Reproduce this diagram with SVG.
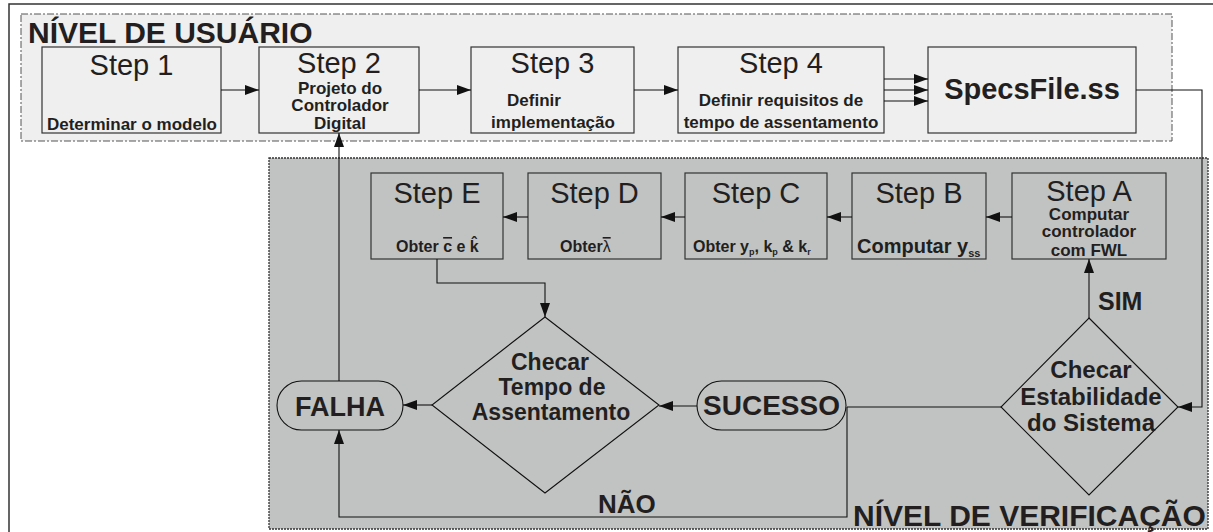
<svg xmlns="http://www.w3.org/2000/svg" width="1213" height="532" viewBox="0 0 1213 532">
<defs>
<marker id="ah" markerUnits="userSpaceOnUse" markerWidth="14" markerHeight="10" refX="14" refY="5" orient="auto">
<path d="M0,0 L14,5 L0,10 z" fill="#111"/>
</marker>
<style>
text{font-family:"Liberation Sans",Arial,sans-serif;fill:#231f20}
.b{font-weight:bold}
.step{font-size:29px;text-anchor:middle}
.sub{font-size:17px;font-weight:bold;text-anchor:middle}
.box{fill:#efefef;stroke:#333;stroke-width:1.2}
.vbox{fill:#c1c3c2;stroke:#333;stroke-width:1.2}
.shape{fill:none;stroke:#111;stroke-width:1.1}
.conn path{fill:none;stroke:#111;stroke-width:1.1}
.arr{marker-end:url(#ah)}
.ov{text-decoration:overline}
</style>
</defs>
<rect width="1213" height="532" fill="#fff"/>
<rect x="9" y="4" width="1212" height="540" fill="none" stroke="#333" stroke-width="1.5"/>
<g id="user-level">
<rect x="21" y="14" width="1151" height="127" fill="#efefef" stroke="#555" stroke-width="1" stroke-dasharray="7,2,2,2"/>
<text x="28" y="43" class="b" font-size="30">NÍVEL DE USUÁRIO</text>
</g>
<g id="verification-level">
<rect x="269" y="158" width="939" height="371" fill="#c1c3c2" stroke="#333" stroke-width="1.3" stroke-dasharray="2,1"/>
</g>
<g id="step1">
<rect x="42" y="47" width="179" height="86" class="box"/>
<text x="131.5" y="75" class="step">Step 1</text>
<text x="132" y="130" class="sub">Determinar o modelo</text>
</g>
<g id="step2">
<rect x="259" y="47" width="160" height="86" class="box"/>
<text x="339" y="73" class="step">Step 2</text>
<text x="340" y="94" class="sub">Projeto do</text>
<text x="340" y="111" class="sub">Controlador</text>
<text x="340" y="129" class="sub">Digital</text>
</g>
<g id="step3">
<rect x="471" y="47" width="163" height="86" class="box"/>
<text x="552.5" y="73" class="step">Step 3</text>
<text x="534" y="106" class="sub">Definir</text>
<text x="553" y="128" class="sub">implementação</text>
</g>
<g id="step4">
<rect x="678" y="47" width="206" height="86" class="box"/>
<text x="781" y="73" class="step">Step 4</text>
<text x="781" y="106" class="sub">Definir requisitos de</text>
<text x="781" y="128" class="sub">tempo de assentamento</text>
</g>
<g id="specsfile">
<rect x="928" y="47" width="208" height="86" class="box"/>
<text x="1032" y="99" class="b" font-size="29" text-anchor="middle">SpecsFile.ss</text>
</g>
<g id="stepA">
<rect x="1012" y="173" width="154" height="86" class="vbox"/>
<text x="1089" y="201" class="step">Step A</text>
<text x="1089" y="220" class="sub">Computar</text>
<text x="1089" y="237" class="sub">controlador</text>
<text x="1089" y="256" class="sub">com FWL</text>
</g>
<g id="stepB">
<rect x="852" y="173" width="134" height="86" class="vbox"/>
<text x="919" y="203" class="step">Step B</text>
<text x="857" y="253" class="b" font-size="20">Computar y<tspan font-size="11" dy="4">ss</tspan></text>
</g>
<g id="stepC">
<rect x="685" y="173" width="142" height="86" class="vbox"/>
<text x="756" y="203" class="step">Step C</text>
<text x="693" y="252" class="b" font-size="16">Obter y<tspan font-size="9" dy="3">p</tspan><tspan dy="-3">, k</tspan><tspan font-size="9" dy="3">p</tspan><tspan dy="-3"> &amp; k</tspan><tspan font-size="9" dy="3">r</tspan></text>
</g>
<g id="stepD">
<rect x="528" y="173" width="133" height="86" class="vbox"/>
<text x="594.5" y="203" class="step">Step D</text>
<text x="560" y="252" class="b" font-size="16">Obter<tspan font-weight="normal" class="ov">λ </tspan></text>
</g>
<g id="stepE">
<rect x="371" y="173" width="132" height="86" class="vbox"/>
<text x="437" y="203" class="step">Step E</text>
<text x="396" y="252" class="b" font-size="16">Obter <tspan class="ov">c</tspan> e k̂</text>
</g>
<g id="check-stability">
<polygon points="1089,318 1178,407 1089,495 1001,407" class="shape"/>
<text x="1091" y="378" class="b" font-size="24" text-anchor="middle">Checar</text>
<text x="1091" y="405" class="b" font-size="24" text-anchor="middle">Estabilidade</text>
<text x="1091" y="431" class="b" font-size="24" text-anchor="middle">do Sistema</text>
</g>
<g id="check-time">
<polygon points="545,317 659,405 545,493 432,405" class="shape"/>
<text x="550" y="370" class="b" font-size="23" text-anchor="middle">Checar</text>
<text x="552" y="395" class="b" font-size="23" text-anchor="middle">Tempo de</text>
<text x="551" y="420" class="b" font-size="23" text-anchor="middle">Assentamento</text>
</g>
<g id="sucesso">
<rect x="697" y="381" width="149" height="49" rx="24.5" class="shape"/>
<text x="771.5" y="415" class="b" font-size="28" text-anchor="middle">SUCESSO</text>
</g>
<g id="falha">
<rect x="277" y="381" width="126" height="49" rx="24.5" class="shape"/>
<text x="340" y="416" class="b" font-size="27" text-anchor="middle">FALHA</text>
</g>
<g id="connectors" class="conn">
<path d="M221,90 H259" class="arr"/>
<path d="M419,90 H471" class="arr"/>
<path d="M634,90 H678" class="arr"/>
<path d="M884,79 H928" class="arr"/>
<path d="M884,90 H928" class="arr"/>
<path d="M884,101 H928" class="arr"/>
<path d="M1136,90 H1202 V407 H1178" class="arr"/>
<path d="M1012,217 H986" class="arr"/>
<path d="M852,217 H827" class="arr"/>
<path d="M685,217 H661" class="arr"/>
<path d="M528,217 H503" class="arr"/>
<path d="M1089,318 V259" class="arr"/>
<path d="M1001,407 H847"/>
<path d="M847,407 V517 H339 V430" class="arr"/>
<path d="M697,406 H659" class="arr"/>
<path d="M432,405 H403" class="arr"/>
<path d="M339,381 V133" class="arr"/>
<path d="M437,259 V283 H545 V317" class="arr"/>
</g>
<g id="labels">
<text x="1098" y="310" class="b" font-size="25">SIM</text>
<text x="598" y="513" class="b" font-size="26">NÃO</text>
<text x="853" y="526" class="b" font-size="30">NÍVEL DE VERIFICAÇÃO</text>
</g>
</svg>
